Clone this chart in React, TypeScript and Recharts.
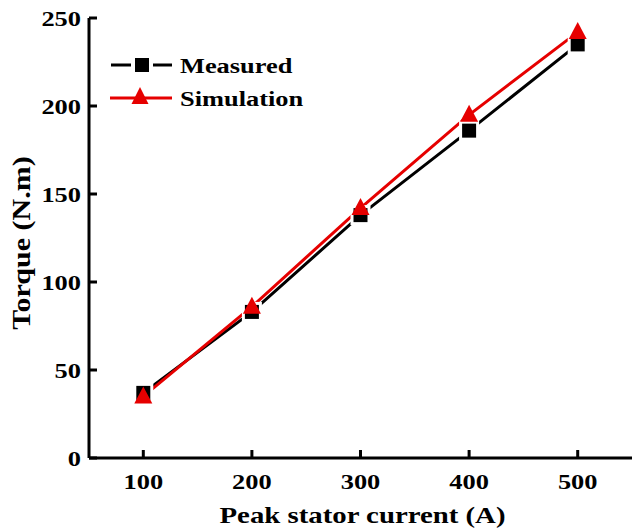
import React from 'react';
import { LineChart, Line, XAxis, YAxis, Legend, Label } from 'recharts';

const currents = [100, 200, 300, 400, 500];
const measured = [37, 83, 138, 186, 235];
const simulation = [35, 86, 142, 195, 242];
const xTicks = [100, 200, 300, 400, 500];
const yTicks = [0, 50, 100, 150, 200, 250];
const seriesNames = { measured: 'Measured', simulation: 'Simulation' };

const data = currents.map((c, i) => ({ current: c, measured: measured[i], simulation: simulation[i] }));

const FONT = '"Liberation Serif", "Times New Roman", Times, serif';
const RED = '#e60000';
const SX = 1.2;

const BottomTick = (props: any) => {
  const { x, y, payload } = props;
  return (
    <g>
      <line x1={x} y1={y} x2={x} y2={y - 8} stroke="#000" strokeWidth={3} />
      <text transform={`translate(${x},${y + 31}) scale(${SX},1)`} textAnchor="middle" fontFamily={FONT} fontWeight="bold" fontSize={22} fill="#000">{payload.value}</text>
    </g>
  );
};

const TopTick = (props: any) => {
  const { x, y } = props;
  return <line x1={x} y1={y} x2={x} y2={y + 8} stroke="#000" strokeWidth={3} />;
};

const LeftTick = (props: any) => {
  const { x, y, payload } = props;
  return (
    <g>
      <line x1={x} y1={y} x2={x + 8} y2={y} stroke="#000" strokeWidth={3} />
      <text transform={`translate(${x - 8},${y + 8}) scale(${SX},1)`} textAnchor="end" fontFamily={FONT} fontWeight="bold" fontSize={22} fill="#000">{payload.value}</text>
    </g>
  );
};

const RightTick = (props: any) => {
  const { x, y } = props;
  return <line x1={x} y1={y} x2={x - 8} y2={y} stroke="#000" strokeWidth={3} />;
};

const XTitle = (props: any) => {
  const vb = props.viewBox || {};
  const cx = vb.x + vb.width / 2 + 2;
  const by = vb.y + 65;
  return (
    <text transform={`translate(${cx},${by}) scale(${SX},1)`} textAnchor="middle" fontFamily={FONT} fontWeight="bold" fontSize={24} fill="#000">Peak stator current (A)</text>
  );
};

const YTitle = (props: any) => {
  const vb = props.viewBox || {};
  const cy = vb.y + vb.height / 2 + 5;
  return (
    <text transform={`translate(30,${cy}) rotate(-90) scale(${SX},1)`} textAnchor="middle" fontFamily={FONT} fontWeight="bold" fontSize={25} fill="#000">Torque (N.m)</text>
  );
};

const SquareDot = (props: any) => {
  const { cx, cy, index } = props;
  if (cx == null || cy == null) return <g key={`s-${index}`} />;
  return (
    <g key={`s-${index}`}>
      <rect x={cx - 7} y={cy - 7} width={14} height={14} fill="#fff" stroke="#fff" strokeWidth={6} />
      <rect x={cx - 7} y={cy - 7} width={14} height={14} fill="#000" />
    </g>
  );
};

const TriangleDot = (props: any) => {
  const { cx, cy, index } = props;
  if (cx == null || cy == null) return <g key={`t-${index}`} />;
  return <polygon key={`t-${index}`} points={`${cx},${cy - 10} ${cx - 9},${cy + 7} ${cx + 9},${cy + 7}`} fill={RED} />;
};

const renderLegend = (props: any) => {
  const payload = props.payload || [];
  return (
    <svg width={230} height={70} style={{ display: 'block', overflow: 'visible' }}>
      {payload.map((entry: any, i: number) => {
        const cy = 15 + i * 33;
        const isMeasured = entry.dataKey === 'measured';
        return (
          <g key={entry.value}>
            {isMeasured ? (
              <g>
                <line x1={6} y1={cy} x2={26} y2={cy} stroke="#000" strokeWidth={3} />
                <line x1={48} y1={cy} x2={67} y2={cy} stroke="#000" strokeWidth={3} />
                <rect x={30} y={cy - 7} width={14} height={14} fill="#000" />
              </g>
            ) : (
              <g>
                <line x1={5} y1={cy} x2={67} y2={cy} stroke={RED} strokeWidth={3} />
                <polygon points={`35,${cy - 11} 26.5,${cy + 6} 43.5,${cy + 6}`} fill={RED} />
              </g>
            )}
            <text transform={`translate(75,${cy + 8}) scale(${SX},1)`} fontFamily={FONT} fontWeight="bold" fontSize={22} fill="#000">{entry.value}</text>
          </g>
        );
      })}
    </svg>
  );
};

export default function App() {
  return (
    <div style={{ position: 'absolute', left: 0, top: 0, width: 633, height: 532, background: '#fff' }}>
      <LineChart width={633} height={532} data={data} margin={{ top: 18, right: 1, bottom: 0, left: 0 }}>
        <XAxis
          dataKey="current"
          type="number"
          domain={[50, 550]}
          ticks={xTicks}
          allowDataOverflow
          height={74}
          tickSize={0}
          tickMargin={0}
          tickLine={false}
          axisLine={{ stroke: '#000', strokeWidth: 3 }}
          tick={<BottomTick />}
          interval={0}
        >
          <Label content={<XTitle />} />
        </XAxis>
        <XAxis
          xAxisId="top"
          orientation="top"
          dataKey="current"
          type="number"
          domain={[50, 550]}
          ticks={xTicks}
          allowDataOverflow
          height={0}
          tickSize={0}
          tickMargin={0}
          tickLine={false}
          axisLine={{ stroke: '#000', strokeWidth: 3 }}
          tick={<TopTick />}
          interval={0}
        />
        <YAxis
          type="number"
          domain={[0, 250]}
          ticks={yTicks}
          allowDataOverflow
          width={89}
          tickSize={0}
          tickMargin={0}
          tickLine={false}
          axisLine={{ stroke: '#000', strokeWidth: 3 }}
          tick={<LeftTick />}
          interval={0}
        >
          <Label content={<YTitle />} />
        </YAxis>
        <YAxis
          yAxisId="right"
          orientation="right"
          type="number"
          domain={[0, 250]}
          ticks={yTicks}
          allowDataOverflow
          width={0}
          tickSize={0}
          tickMargin={0}
          tickLine={false}
          axisLine={{ stroke: '#000', strokeWidth: 3 }}
          tick={<RightTick />}
          interval={0}
        />
        <Legend
          layout="horizontal"
          verticalAlign="middle"
          align="center"
          content={renderLegend}
          wrapperStyle={{ position: 'absolute', left: 105, top: 50, width: 230, height: 70 }}
        />
        <Line
          type="linear"
          dataKey="measured"
          name={seriesNames.measured}
          stroke="#000"
          strokeWidth={3}
          dot={SquareDot}
          activeDot={false}
          isAnimationActive={false}
        />
        <Line
          type="linear"
          dataKey="simulation"
          name={seriesNames.simulation}
          stroke={RED}
          strokeWidth={3}
          dot={TriangleDot}
          activeDot={false}
          isAnimationActive={false}
        />
      </LineChart>
    </div>
  );
}
